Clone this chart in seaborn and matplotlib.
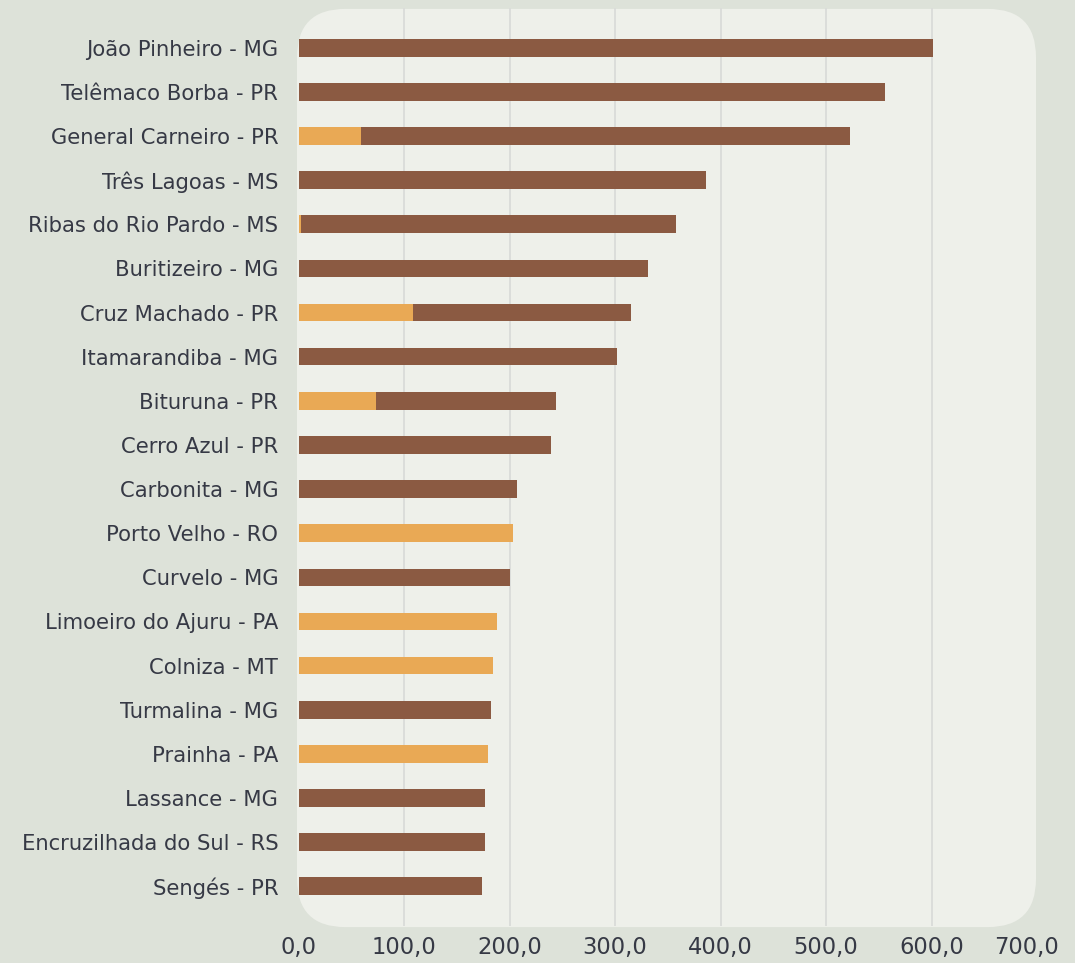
import matplotlib
matplotlib.use("Agg")
import matplotlib.pyplot as plt
from matplotlib.patches import FancyBboxPatch
from matplotlib.transforms import ScaledTranslation
import seaborn as sns
import pandas as pd

categories = ["João Pinheiro - MG", "Telêmaco Borba - PR", "General Carneiro - PR",
              "Três Lagoas - MS", "Ribas do Rio Pardo - MS", "Buritizeiro - MG",
              "Cruz Machado - PR", "Itamarandiba - MG", "Bituruna - PR",
              "Cerro Azul - PR", "Carbonita - MG", "Porto Velho - RO",
              "Curvelo - MG", "Limoeiro do Ajuru - PA", "Colniza - MT",
              "Turmalina - MG", "Prainha - PA", "Lassance - MG",
              "Encruzilhada do Sul - RS", "Sengés - PR"]
orange_vals = [0, 0, 59, 0, 2, 0, 109, 0, 73, 0, 0, 203, 0, 188, 184, 0, 180, 0, 0, 0]
brown_vals = [601, 556, 464, 386, 356, 331, 206, 302, 171, 239, 207, 0, 200, 0, 0, 182, 0, 177, 177, 174]
xticks = [0, 100, 200, 300, 400, 500, 600, 700]
xtick_labels = ["0,0", "100,0", "200,0", "300,0", "400,0", "500,0", "600,0", "700,0"]

BROWN = "#8B5A42"
ORANGE = "#E9A955"
OUTER = "#DDE2D9"
INNER = "#EEF0EA"
TEXT = "#363945"

sns.set_theme(style="white")
plt.rcParams["font.family"] = ["DejaVu Sans"]

df = pd.DataFrame({"cat": categories, "orange": orange_vals, "brown": brown_vals})
df["total"] = df["orange"] + df["brown"]

fig = plt.figure(figsize=(10.75, 9.63), dpi=100)
fig.patch.set_facecolor(OUTER)

W, H = 1075, 963
x0, x1 = 298.5, 1037.0
ytop, ybot = 8.0, 926.0
ax = fig.add_axes([x0 / W, 1 - ybot / H, (x1 - x0) / W, (ybot - ytop) / H])
ax.patch.set_visible(False)
ax.set_zorder(2)

# rounded background panel
box = FancyBboxPatch((297 / W + 0.035, 1 - 928 / H + 0.04),
                     (1036 - 297) / W - 0.07, (928 - 8) / H - 0.08,
                     boxstyle="round,pad=0.035,rounding_size=0.045",
                     transform=fig.transFigure, facecolor=INNER, edgecolor="none",
                     zorder=0, mutation_aspect=W / H)
fig.patches.append(box)

sns.barplot(data=df, y="cat", x="total", order=categories, orient="h",
            color=BROWN, width=0.4, saturation=1, linewidth=0, ax=ax, zorder=3)
sns.barplot(data=df, y="cat", x="orange", order=categories, orient="h",
            color=ORANGE, width=0.4, saturation=1, linewidth=0, ax=ax, zorder=4)

ax.set_xlim(0, 700)
ax.set_ylim(19.9, -0.9)
for gx in xticks[1:-1]:
    ax.axvline(gx, color="#DADCD9", lw=1.3, zorder=1)

ax.set_xticks(xticks)
ax.set_xticklabels(xtick_labels, fontsize=16.3, color=TEXT)
ax.tick_params(axis="y", labelsize=15.2, labelcolor=TEXT, length=0, pad=14.5)
ax.tick_params(axis="x", length=0, pad=7)
last = ax.get_xticklabels()[-1]
last.set_transform(last.get_transform() + ScaledTranslation(-0.11, 0, fig.dpi_scale_trans))
ax.set_xlabel("")
ax.set_ylabel("")
for s in ax.spines.values():
    s.set_visible(False)

fig.savefig("out.png", dpi=100, facecolor=OUTER)
